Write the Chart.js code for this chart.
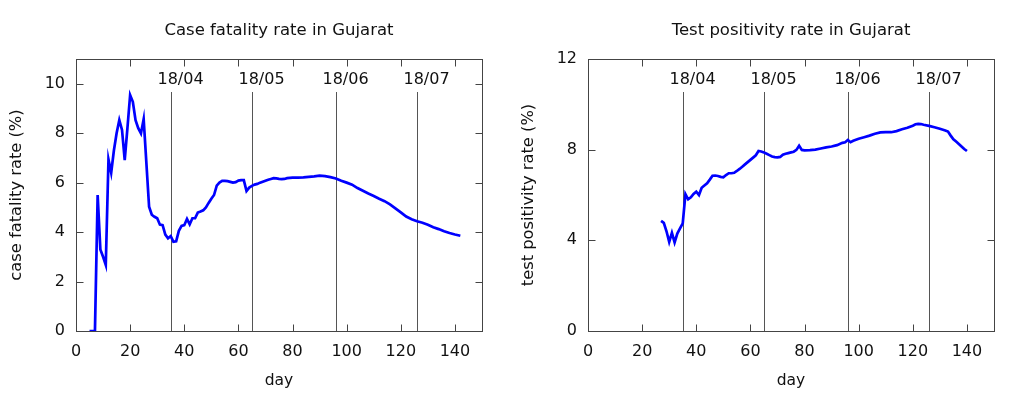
<!DOCTYPE html>
<html>
<head>
<meta charset="utf-8">
<script src="https://cdn.jsdelivr.net/npm/chart.js@4.4.0/dist/chart.umd.min.js"></script>
<style>
    body { margin: 0; background: #fff; }
    .box { position: absolute; top: 0; width: 512px; height: 394px; }
</style>
</head>
<body>
<div class="box" style="left:0"><canvas id="chartCfr" width="512" height="394"></canvas></div>
<div class="box" style="left:512px"><canvas id="chartTpr" width="512" height="394"></canvas></div>
<script>
// Day axis ticks, shared by both panels
const dayTicks = [0, 20, 40, 60, 80, 100, 120, 140];

// Vertical date markers
const markerDays = [35, 65, 96, 126];
const markerLabels = ['18/04', '18/05', '18/06', '18/07'];

// Case fatality rate (%)
const cfrDays = [5, 6, 7, 8, 9, 10, 11, 12, 13, 14, 15, 16, 17, 18, 19, 20, 21, 22, 23, 24, 25, 26, 27, 28, 29, 30,
    31, 32, 33, 34, 35, 36, 37, 38, 39, 40, 41, 42, 43, 44, 45, 46, 47, 48, 49, 50, 51, 52, 53, 54, 55, 56, 57, 58,
    59, 60, 61, 62, 63, 64, 65, 66, 67, 68, 69, 70, 71, 72, 73, 74, 75, 76, 77, 78, 80, 82, 84, 86, 88, 90, 92, 94,
    96, 98, 100, 102, 104, 106, 108, 110, 112, 114, 116, 118, 120, 122, 124, 126, 128, 130, 132, 134, 136, 138, 140, 142];
const cfrValues = [0, 0, 0, 5.5, 3.3, 3.0, 2.67, 6.94, 6.4, 7.3, 8.0, 8.53, 8.13, 6.91, 8.2, 9.54, 9.27, 8.53, 8.2, 7.99, 8.57, 6.8, 5.03, 4.7, 4.62, 4.56,
    4.3, 4.28, 3.9, 3.75, 3.84, 3.61, 3.63, 4.05, 4.25, 4.28, 4.53, 4.31, 4.56, 4.56, 4.79, 4.83, 4.88, 5.0, 5.18, 5.35, 5.5, 5.88, 6.0, 6.07, 6.07, 6.06, 6.03, 6.0,
    6.02, 6.08, 6.1, 6.1, 5.66, 5.8, 5.87, 5.92, 5.95, 6.0, 6.04, 6.08, 6.12, 6.15, 6.18, 6.17, 6.15, 6.14, 6.15, 6.18, 6.2, 6.2, 6.21, 6.23, 6.25, 6.28, 6.26, 6.22,
    6.17, 6.08, 6.0, 5.92, 5.78, 5.67, 5.56, 5.46, 5.35, 5.25, 5.12, 4.96, 4.8, 4.63, 4.52, 4.44, 4.38, 4.3, 4.2, 4.12, 4.03, 3.96, 3.9, 3.85];
const cfrTicks = [0, 2, 4, 6, 8, 10];

// Test positivity rate (%)
const tprDays = [27, 28, 29, 30, 31, 32, 33, 34, 35, 36, 37, 38, 39, 40, 41, 42, 43, 44, 45, 46, 47, 48, 49, 50, 51, 52,
    53, 54, 55, 56, 57, 58, 59, 60, 61, 62, 63, 64, 65, 66, 67, 68, 69, 70, 71, 72, 73, 74, 75, 76, 77, 78, 79, 80,
    82, 84, 86, 88, 90, 92, 94, 95, 96, 97, 98, 100, 102, 104, 106, 108, 110, 112, 114, 116, 118, 120, 121, 122, 123,
    124, 126, 128, 130, 132, 133, 134, 135, 136, 137, 138, 139, 140];
const tprValues = [4.86, 4.77, 4.4, 3.93, 4.33, 3.91, 4.3, 4.53, 4.75, 6.04, 5.81, 5.9, 6.05, 6.15, 6.0, 6.32, 6.42, 6.52, 6.68, 6.85, 6.86, 6.84, 6.8, 6.78, 6.88, 6.96,
    6.96, 6.98, 7.06, 7.15, 7.25, 7.35, 7.45, 7.55, 7.65, 7.75, 7.94, 7.92, 7.88, 7.82, 7.76, 7.7, 7.67, 7.66, 7.68, 7.78, 7.82, 7.85, 7.88, 7.91, 7.99, 8.17, 7.99, 7.97,
    7.98, 8.0, 8.05, 8.1, 8.14, 8.2, 8.3, 8.33, 8.43, 8.33, 8.39, 8.48, 8.55, 8.62, 8.7, 8.76, 8.77, 8.77, 8.82, 8.9, 8.97, 9.06, 9.12, 9.14, 9.13,
    9.1, 9.05, 8.99, 8.92, 8.85, 8.8, 8.62, 8.46, 8.36, 8.25, 8.14, 8.03, 7.94];
const tprTicks = [0, 4, 8, 12];

const FAMILY = 'DejaVu Sans';
const FONT = { family: FAMILY, size: 16 };
const XTITLE_FONT = { family: FAMILY, size: 15.5 };
const YTITLE_FONT = { family: FAMILY, size: 16.3 };
const TEXT = '#111';

// gnuplot-ish frame: box, inward mirrored ticks, date markers, title over plot
const gnuFrame = {
    id: 'gnuFrame',
    beforeDatasetsDraw(chart) {
        const ctx = chart.ctx, ca = chart.chartArea, x = chart.scales.x;
        ctx.save();
        ctx.strokeStyle = '#555';
        ctx.lineWidth = 1;
        ctx.fillStyle = TEXT;
        ctx.font = FONT.size + 'px ' + FAMILY;
        ctx.textAlign = 'center';
        ctx.textBaseline = 'middle';
        markerDays.forEach((d, i) => {
            const px = Math.round(x.getPixelForValue(d)) + 0.5;
            ctx.beginPath();
            ctx.moveTo(px, 92);
            ctx.lineTo(px, ca.bottom);
            ctx.stroke();
            ctx.fillText(markerLabels[i], px + 9, 80);
        });
        ctx.restore();
    },
    afterDraw(chart, args, opts) {
        const ctx = chart.ctx, ca = chart.chartArea;
        const x = chart.scales.x, y = chart.scales.y;
        ctx.save();
        ctx.strokeStyle = '#444';
        ctx.lineWidth = 1;
        const L = Math.round(ca.left) + 0.5, R = Math.round(ca.right) + 0.5;
        const T = Math.round(ca.top) + 0.5, B = Math.round(ca.bottom) + 0.5;
        ctx.beginPath();
        x.ticks.forEach(t => {
            const px = Math.round(x.getPixelForValue(t.value)) + 0.5;
            ctx.moveTo(px, B); ctx.lineTo(px, B - 7);
            ctx.moveTo(px, T); ctx.lineTo(px, T + 7);
        });
        y.ticks.forEach(t => {
            const py = Math.round(y.getPixelForValue(t.value)) + 0.5;
            ctx.moveTo(L, py); ctx.lineTo(L + 7, py);
            ctx.moveTo(R, py); ctx.lineTo(R - 7, py);
        });
        ctx.stroke();
        ctx.strokeRect(L, T, R - L, B - T);
        ctx.fillStyle = TEXT;
        ctx.font = '16.5px ' + FAMILY;
        ctx.textAlign = 'center';
        ctx.textBaseline = 'middle';
        ctx.fillText(opts.title, (ca.left + ca.right) / 2, 31);
        ctx.restore();
    }
};

function makeChart(id, title, yTitle, days, values, yMax, yTicks) {
    const ctx = document.getElementById(id).getContext('2d');
    return new Chart(ctx, {
        type: 'line',
        data: {
            datasets: [{
                data: days.map((d, i) => ({ x: d, y: values[i] })),
                borderColor: '#0000ff',
                borderWidth: 2.7,
                pointRadius: 0,
                tension: 0,
                fill: false
            }]
        },
        options: {
            responsive: false,
            animation: false,
            devicePixelRatio: 1,
            layout: { padding: { top: 59, right: 30, left: 0, bottom: 0 } },
            plugins: {
                legend: { display: false },
                tooltip: { enabled: false },
                gnuFrame: { title: title }
            },
            scales: {
                x: {
                    type: 'linear', min: 0, max: 150,
                    afterBuildTicks: s => { s.ticks = dayTicks.map(v => ({ value: v })); },
                    afterFit: s => { s.height = 63; },
                    grid: { display: false, drawTicks: false },
                    border: { display: false },
                    ticks: { padding: 11, color: TEXT, font: FONT, maxRotation: 0 },
                    title: { display: true, text: 'day', color: TEXT, font: XTITLE_FONT, padding: { top: 0, bottom: 4 } }
                },
                y: {
                    type: 'linear', min: 0, max: yMax,
                    afterBuildTicks: s => { s.ticks = yTicks.map(v => ({ value: v })); },
                    afterFit: s => { s.width = 76; },
                    grid: { display: false, drawTicks: false },
                    border: { display: false },
                    ticks: { padding: 11, color: TEXT, font: FONT },
                    title: { display: true, text: yTitle, color: TEXT, font: YTITLE_FONT, padding: { top: 7, bottom: 0 } }
                }
            }
        },
        plugins: [gnuFrame]
    });
}

makeChart('chartCfr', 'Case fatality rate in Gujarat', 'case fatality rate (%)', cfrDays, cfrValues, 11, cfrTicks);
makeChart('chartTpr', 'Test positivity rate in Gujarat', 'test positivity rate (%)', tprDays, tprValues, 12, tprTicks);
</script>
</body>
</html>
